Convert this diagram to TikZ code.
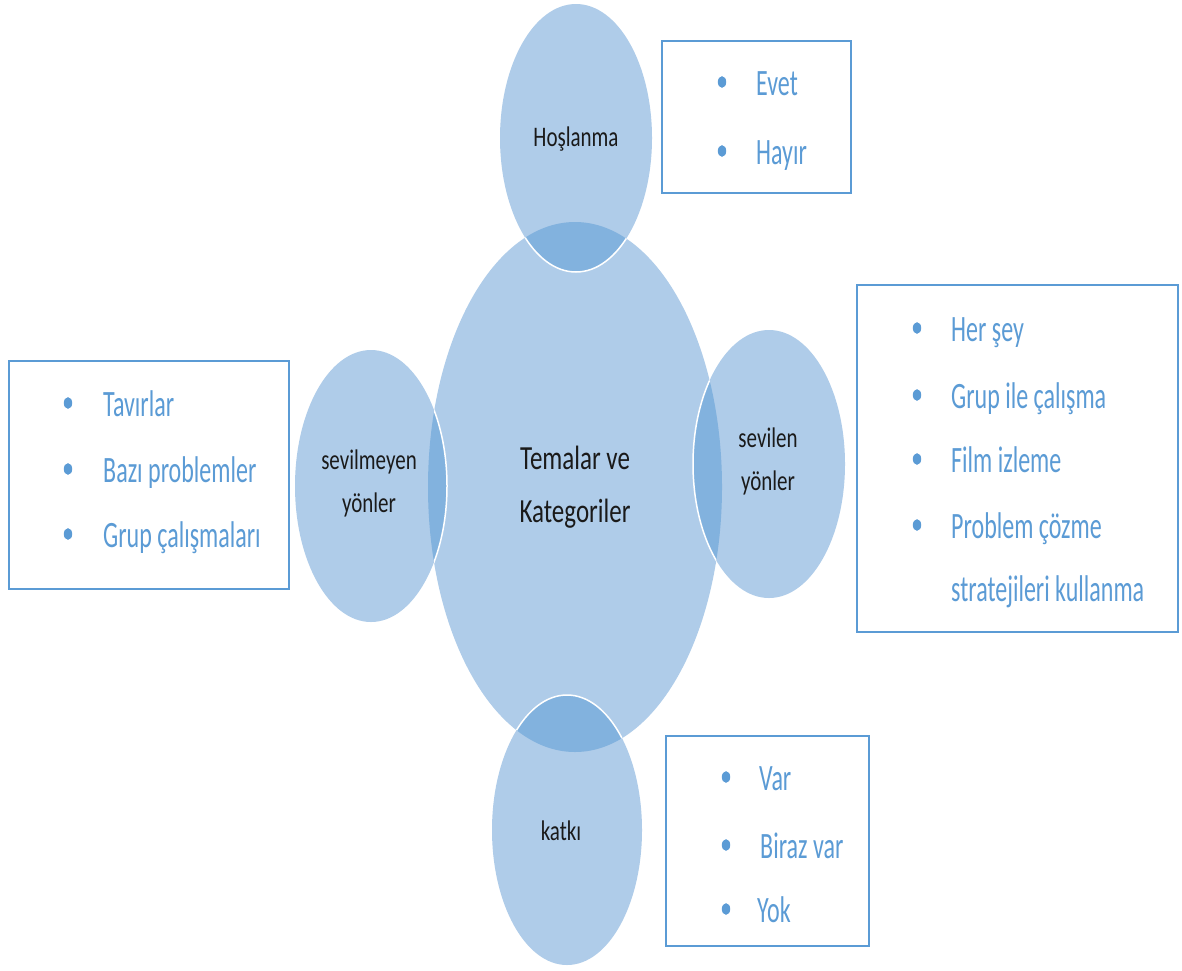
\documentclass[tikz,border=0pt]{standalone}
\usepackage{fontspec}
\setmainfont{Carlito}
\usepackage{graphicx}
\definecolor{lightfill}{HTML}{AFCCE9}
\definecolor{darkfill}{HTML}{82B2DE}
\definecolor{accent}{HTML}{5B9BD5}
\definecolor{ink}{HTML}{1A1A1A}
\newcommand\vs[1]{\scalebox{1}[1.35]{#1}}
\newcommand\vb[1]{\scalebox{1}[1.55]{#1}}
\tikzset{
  boxframe/.style={draw=accent, line width=1.6pt, fill=white, inner sep=0pt, anchor=north west},
  item/.style={anchor=base west, inner sep=0pt, text=accent, font=\fontsize{24}{28}\selectfont},
  lab/.style={anchor=base, inner sep=0pt, text=ink, font=\fontsize{21}{25}\selectfont},
  bul/.style={fill=accent},
}
\begin{document}
\begin{tikzpicture}[x=1pt,y=-1pt]
\useasboundingbox (0,0) rectangle (1182,970);
\fill[white] (0,0) rectangle (1182,970);
% ellipses
\fill[lightfill] (575,487) ellipse [x radius=147pt, y radius=265pt];
\fill[lightfill] (576,138) ellipse [x radius=76pt, y radius=134pt];
\fill[lightfill] (769,464) ellipse [x radius=76pt, y radius=134pt];
\fill[lightfill] (371,486) ellipse [x radius=76pt, y radius=136pt];
\fill[lightfill] (567,830) ellipse [x radius=75pt, y radius=135pt];
\begin{scope}
  \clip (575,487) ellipse [x radius=147pt, y radius=265pt];
  \fill[darkfill] (576,138) ellipse [x radius=76pt, y radius=134pt];
  \fill[darkfill] (769,464) ellipse [x radius=76pt, y radius=134pt];
  \fill[darkfill] (371,486) ellipse [x radius=76pt, y radius=136pt];
  \fill[darkfill] (567,830) ellipse [x radius=75pt, y radius=135pt];
  \draw[white, line width=1.5pt] (576,138) ellipse [x radius=76pt, y radius=134pt];
  \draw[white, line width=1.5pt] (769,464) ellipse [x radius=76pt, y radius=134pt];
  \draw[white, line width=1.5pt] (371,486) ellipse [x radius=76pt, y radius=136pt];
  \draw[white, line width=1.5pt] (567,830) ellipse [x radius=75pt, y radius=135pt];
\end{scope}
% circle labels
\node[lab, font=\fontsize{25}{53}\selectfont, align=center, anchor=center] (tema) at (575,487) {\vs{Temalar ve}\\\vs{Kategoriler}};
\node[lab] (hos) at (576,146) {\vs{Hoşlanma}};
\node[lab, font=\fontsize{21}{43}\selectfont, align=center, anchor=center] (sev) at (768,461) {\vs{sevilen}\\\vs{yönler}};
\node[lab, font=\fontsize{21}{43}\selectfont, align=center, anchor=center] (sevm) at (369,483) {\vs{sevilmeyen}\\\vs{yönler}};
\node[lab] (kat) at (561,840) {\vs{katkı}};
% boxes
\node[boxframe, minimum width=189pt, minimum height=152pt] (bh) at (661,40) {};
\node[boxframe, minimum width=321pt, minimum height=347pt] (bs) at (856,284) {};
\node[boxframe, minimum width=280pt, minimum height=228pt] (bm) at (8,360) {};
\node[boxframe, minimum width=203pt, minimum height=210pt] (bk) at (665,735) {};
% top box items
\fill[bul] (722,82) ellipse [x radius=4.2pt, y radius=5.8pt];
\fill[bul] (722,151) ellipse [x radius=4.2pt, y radius=5.8pt];
\node[item] (evet) at (756,95) {\vb{Evet}};
\node[item] (hayir) at (756,164) {\vb{Hayır}};
% right box items
\fill[bul] (917,328) ellipse [x radius=4.2pt, y radius=5.8pt];
\fill[bul] (917,395) ellipse [x radius=4.2pt, y radius=5.8pt];
\fill[bul] (917,459) ellipse [x radius=4.2pt, y radius=5.8pt];
\fill[bul] (917,525) ellipse [x radius=4.2pt, y radius=5.8pt];
\node[item] (hersey) at (951,341) {\vb{Her şey}};
\node[item] (grup) at (951,408) {\vb{Grup ile çalışma}};
\node[item] (film) at (951,472) {\vb{Film izleme}};
\node[item] (prob) at (951,538) {\vb{Problem çözme}};
\node[item] (strat) at (951,601) {\vb{stratejileri kullanma}};
% left box items
\fill[bul] (68,403) ellipse [x radius=4.2pt, y radius=5.8pt];
\fill[bul] (68,469) ellipse [x radius=4.2pt, y radius=5.8pt];
\fill[bul] (68,534) ellipse [x radius=4.2pt, y radius=5.8pt];
\node[item] (tav) at (103,416) {\vb{Tavırlar}};
\node[item] (baz) at (103,482) {\vb{Bazı problemler}};
\node[item] (gc) at (103,547) {\vb{Grup çalışmaları}};
% bottom box items
\fill[bul] (726,777) ellipse [x radius=4.2pt, y radius=5.8pt];
\fill[bul] (726,845) ellipse [x radius=4.2pt, y radius=5.8pt];
\fill[bul] (726,909) ellipse [x radius=4.2pt, y radius=5.8pt];
\node[item] (var) at (759,790) {\vb{Var}};
\node[item] (biraz) at (760,858) {\vb{Biraz var}};
\node[item] (yok) at (757,922) {\vb{Yok}};
\end{tikzpicture}
\end{document}
